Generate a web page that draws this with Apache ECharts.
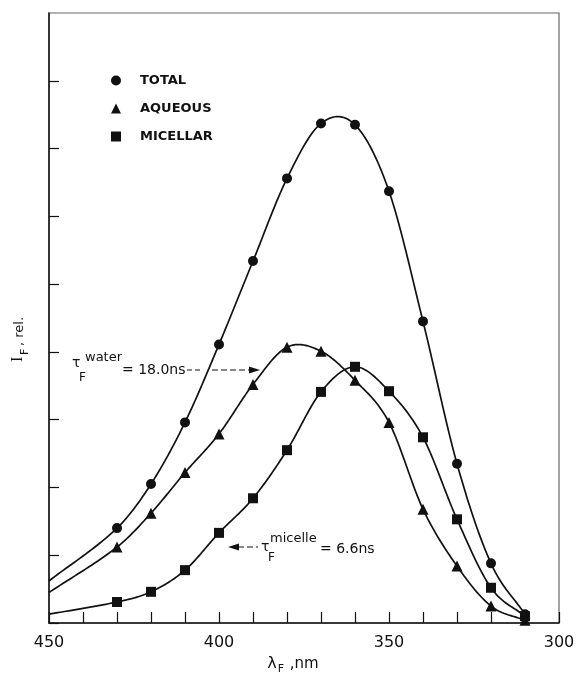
<!DOCTYPE html>
<html>
<head>
<meta charset="utf-8">
<script src="https://cdn.jsdelivr.net/npm/echarts@6/dist/echarts.min.js"></script>
<style>
  html, body { margin: 0; padding: 0; background: #fff; }
  #chart { width: 578px; height: 675px; }
</style>
</head>
<body>
<div id="chart"></div>
<script>
// Emission wavelength (nm); the 450 nm entry only extends the fitted curve to the frame.
const wavelengths = [450, 430, 420, 410, 400, 390, 380, 370, 360, 350, 340, 330, 320, 310];
// Relative fluorescence intensity
const total    = [0.62, 1.40, 2.05, 2.96, 4.11, 5.34, 6.56, 7.37, 7.35, 6.37, 4.45, 2.35, 0.88, 0.13];
const aqueous  = [0.45, 1.12, 1.62, 2.22, 2.79, 3.52, 4.07, 4.01, 3.58, 2.96, 1.68, 0.84, 0.25, 0.04];
const micellar = [0.13, 0.31, 0.46, 0.78, 1.33, 1.84, 2.55, 3.41, 3.78, 3.42, 2.74, 1.53, 0.52, 0.10];
const xTickLabels = ['450', '400', '350', '300'];
const yTickValues = [0, 1, 2, 3, 4, 5, 6, 7, 8];

const INK = '#111';
const FONT = 'DejaVu Sans';

// Smooth curve through the measured points: cubic Hermite segments in pixel space,
// slopes from central differences, sampled into a polyline.
function hermitePolyline(px) {
  const n = px.length;
  const slope = px.map((p, i) => {
    const a = px[Math.max(0, i - 1)], b = px[Math.min(n - 1, i + 1)];
    return (b[1] - a[1]) / (b[0] - a[0]);
  });
  const out = [px[0]];
  for (let i = 0; i < n - 1; i++) {
    const [x0, y0] = px[i], [x1, y1] = px[i + 1];
    const h = x1 - x0;
    const c1 = [x0 + h / 3, y0 + slope[i] * h / 3];
    const c2 = [x1 - h / 3, y1 - slope[i + 1] * h / 3];
    for (let k = 1; k <= 24; k++) {
      const t = k / 24, u = 1 - t;
      out.push([
        u * u * u * x0 + 3 * u * u * t * c1[0] + 3 * u * t * t * c2[0] + t * t * t * x1,
        u * u * u * y0 + 3 * u * u * t * c1[1] + 3 * u * t * t * c2[1] + t * t * t * y1
      ]);
    }
  }
  return out;
}

function curveSeries(values) {
  return {
    type: 'custom',
    silent: true,
    z: 2,
    data: wavelengths.map((w, i) => [w, values[i]]),
    renderItem: function (params, api) {
      if (params.dataIndex !== 0) return null;
      const px = wavelengths.map((w, i) => api.coord([w, values[i]]));
      return {
        type: 'polyline',
        shape: { points: hermitePolyline(px) },
        style: { stroke: INK, lineWidth: 1.7, fill: null }
      };
    }
  };
}

function markerSeries(name, values, symbol, size) {
  return {
    name: name,
    type: 'scatter',
    symbol: symbol,
    symbolSize: size,
    itemStyle: { color: INK, opacity: 1 },
    emphasis: { disabled: true },
    z: 3,
    data: wavelengths
      .map((w, i) => [w, values[i]])
      .filter(d => d[0] !== 450)
  };
}

const chart = echarts.init(document.getElementById('chart'), null, { renderer: 'canvas' });

const option = {
  animation: false,
  backgroundColor: '#fff',
  grid: {
    left: 49, right: 19, top: 13, bottom: 52,
    outerBoundsMode: 'none',
    containLabel: false,
    show: true, borderColor: '#666', borderWidth: 1.2, backgroundColor: 'transparent'
  },
  legend: {
    orient: 'vertical',
    left: 106, top: 69,
    itemWidth: 10, itemHeight: 10,
    itemGap: 15,
    selectedMode: false,
    data: [
      { name: 'TOTAL', icon: 'circle' },
      { name: 'AQUEOUS', icon: 'triangle' },
      { name: 'MICELLAR', icon: 'rect' }
    ],
    itemStyle: { color: INK },
    textStyle: { color: INK, fontFamily: FONT, fontSize: 13, fontWeight: 'bold', padding: [0, 0, 0, 14] }
  },
  xAxis: {
    type: 'value',
    inverse: true,
    min: 300, max: 450, interval: 50,
    axisLine: { show: true, lineStyle: { color: INK, width: 1.5 } },
    axisTick: { show: true, inside: true, length: 11, lineStyle: { color: INK, width: 1.2 } },
    minorTick: { show: true, splitNumber: 5, length: 11, lineStyle: { color: INK, width: 1.2 } },
    splitLine: { show: false },
    axisLabel: {
      color: INK, fontFamily: FONT, fontSize: 16, margin: 12,
      formatter: v => xTickLabels.find(t => Number(t) === v) || ''
    },
    name: '{l|λ}{s|F}{u| ,nm}',
    nameLocation: 'middle',
    nameGap: 30,
    nameTextStyle: {
      padding: [0, 22, 0, 0],
      rich: {
        l: { fontFamily: FONT, fontSize: 16, color: INK },
        s: { fontFamily: FONT, fontSize: 11, color: INK, padding: [10, 1, 0, 1] },
        u: { fontFamily: FONT, fontSize: 15, color: INK }
      }
    }
  },
  yAxis: {
    type: 'value',
    min: 0, max: 9, interval: 1,
    axisLine: { show: true, lineStyle: { color: INK, width: 1.5 } },
    axisTick: { show: true, inside: true, length: 10, customValues: yTickValues, lineStyle: { color: INK, width: 1.2 } },
    axisLabel: { show: false },
    splitLine: { show: false }
  },
  graphic: [
    // y-axis title, rotated
    {
      type: 'group', x: 26, y: 362, rotation: Math.PI / 2,
      children: [
        { type: 'text', x: 0, y: 0, style: { text: 'I', font: '16px "Liberation Serif"', fill: INK, textAlign: 'left', textVerticalAlign: 'bottom' } },
        { type: 'text', x: 7, y: 5, style: { text: 'F', font: '11px "DejaVu Sans"', fill: INK, textAlign: 'left', textVerticalAlign: 'bottom' } },
        { type: 'text', x: 16, y: 0, style: { text: ', rel.', font: '13px "DejaVu Sans"', fill: INK, textAlign: 'left', textVerticalAlign: 'bottom' } }
      ]
    },
    // lifetime in water
    { type: 'text', x: 72, y: 363, style: { text: 'τ', font: '14px "DejaVu Sans"', fill: INK, textVerticalAlign: 'middle' } },
    { type: 'text', x: 85, y: 358, style: { text: 'water', font: '13px "DejaVu Sans"', fill: INK, textVerticalAlign: 'middle' } },
    { type: 'text', x: 79, y: 378, style: { text: 'F', font: '12px "DejaVu Sans"', fill: INK, textVerticalAlign: 'middle' } },
    { type: 'text', x: 122, y: 370, style: { text: '= 18.0ns', font: '14px "DejaVu Sans"', fill: INK, textVerticalAlign: 'middle' } },
    { type: 'line', shape: { x1: 187, y1: 370, x2: 201, y2: 370 }, style: { stroke: INK, lineWidth: 1, lineDash: [5, 3] } },
    { type: 'line', shape: { x1: 212, y1: 370, x2: 254, y2: 370 }, style: { stroke: INK, lineWidth: 1, lineDash: [6, 3] } },
    { type: 'polygon', shape: { points: [[260, 370], [249, 366.5], [249, 373.5]] }, style: { fill: INK } },
    // lifetime in micelles
    { type: 'polygon', shape: { points: [[228, 547], [239, 543.5], [239, 550.5]] }, style: { fill: INK } },
    { type: 'line', shape: { x1: 238, y1: 547, x2: 258, y2: 547 }, style: { stroke: INK, lineWidth: 1, lineDash: [6, 3] } },
    { type: 'text', x: 261, y: 547, style: { text: 'τ', font: '14px "DejaVu Sans"', fill: INK, textVerticalAlign: 'middle' } },
    { type: 'text', x: 270, y: 539, style: { text: 'micelle', font: '13px "DejaVu Sans"', fill: INK, textVerticalAlign: 'middle' } },
    { type: 'text', x: 268, y: 558, style: { text: 'F', font: '12px "DejaVu Sans"', fill: INK, textVerticalAlign: 'middle' } },
    { type: 'text', x: 320, y: 549, style: { text: '= 6.6ns', font: '14px "DejaVu Sans"', fill: INK, textVerticalAlign: 'middle' } }
  ],
  series: [
    curveSeries(total),
    curveSeries(aqueous),
    curveSeries(micellar),
    markerSeries('TOTAL', total, 'circle', 10),
    markerSeries('AQUEOUS', aqueous, 'triangle', 11),
    markerSeries('MICELLAR', micellar, 'rect', 10)
  ]
};

chart.setOption(option);
</script>
</body>
</html>
